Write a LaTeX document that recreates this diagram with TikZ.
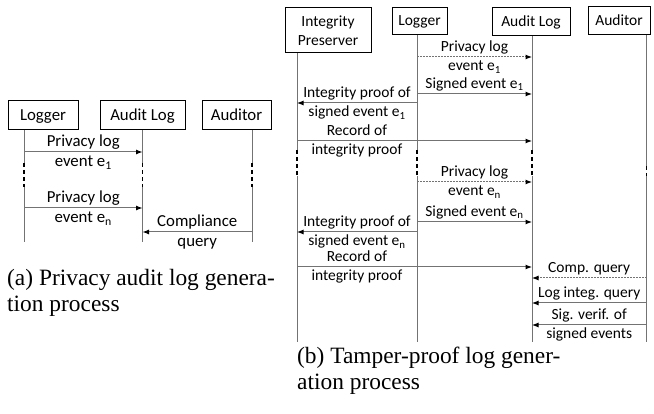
\documentclass[tikz,border=0pt]{standalone}
\usepackage{fontspec}
\setmainfont{Liberation Serif}
\newfontfamily\calibri{Carlito}
\usetikzlibrary{arrows.meta,positioning}

\begin{document}
\begin{tikzpicture}[x=1pt,y=-1pt,
    >={Latex[color=black,length=6.5pt,width=5pt]},
    actor/.style={draw,line width=1pt,inner sep=2pt,align=center},
    life/.style={draw=black!55,line width=1pt},
    gap/.style={draw=black,line width=1.1pt,dash pattern=on 4pt off 3pt},
    msg/.style={->,draw=black!55,line width=1pt},
    async/.style={msg,dash pattern=on 1.5pt off 1.5pt},
    caption/.style={inner sep=0pt,align=left,anchor=north west,
                    font=\fontsize{23.4}{26}\selectfont}]
  \useasboundingbox (0,0) rectangle (654,414);

  % (a) audit log generation
  \begin{scope}[nodes={font=\calibri\fontsize{16.8}{19}\selectfont,
                       inner sep=1pt,text height=13.5pt,text depth=4pt}]
    \node[actor,minimum width=70pt,minimum height=29pt] (loggerA) at (43,115.5) {Logger};
    \node[actor,minimum width=85pt,minimum height=29pt] (auditlogA) at (142.5,115.5) {Audit Log};
    \node[actor,minimum width=69pt,minimum height=29pt] (auditorA) at (236.5,115.5) {Auditor};

    \coordinate (lgA) at (24,130);
    \coordinate (alA) at (auditlogA.south);
    \coordinate (auA) at (252,130);
    \coordinate (cutA) at (0,163);
    \coordinate (joinA) at (0,187);
    \coordinate (endA) at (0,242);

    \draw[life] (lgA) -- (lgA |- cutA) (lgA |- joinA) -- (lgA |- endA);
    \draw[gap] (lgA |- cutA) -- (lgA |- joinA);
    \draw[life] (alA) -- (alA |- cutA) (alA |- joinA) -- (alA |- endA);
    \draw[gap] (alA |- cutA) -- (alA |- joinA);
    \draw[life] (auA) -- (auA |- cutA) (auA |- joinA) -- (auA |- endA);
    \draw[gap] (auA |- cutA) -- (auA |- joinA);

    \draw[msg] (lgA |- 0,152) -- node[above]{Privacy log}
      node[below]{event e\textsubscript{1}} (alA |- 0,152);
    \draw[msg] (lgA |- 0,208) -- node[above]{Privacy log}
      node[below]{event e\textsubscript{n}} (alA |- 0,208);
    \draw[msg] (auA |- 0,232) -- node[above]{Compliance}
      node[below]{query} (alA |- 0,232);
  \end{scope}

  % (b) tamper-proof log generation
  \begin{scope}[nodes={font=\calibri\fontsize{15.5}{19}\selectfont,
                       inner sep=1pt,text height=12.5pt,text depth=4pt}]
    \node[actor,minimum width=86pt,minimum height=45pt,text height=,text depth=]
      (preserverB) at (328,30.5) {Integrity\\Preserver};
    \node[actor,minimum width=55pt,minimum height=27pt] (loggerB) at (419.5,21.5) {Logger};
    \node[actor,minimum width=78pt,minimum height=28pt] (auditlogB) at (531,22) {Audit Log};
    \node[actor,minimum width=62pt,minimum height=28pt] (auditorB) at (619,21) {Auditor};

    \coordinate (ipB) at (297,53);
    \coordinate (lgB) at (417,35);
    \coordinate (alB) at (532,36);
    \coordinate (auB) at (646.5,35);
    \coordinate (cutB) at (0,150);
    \coordinate (joinB) at (0,176);
    \coordinate (endB) at (0,342);
    \coordinate (cutC) at (0,166);

    \draw[life] (ipB) -- (ipB |- cutB) (ipB |- joinB) -- (ipB |- endB);
    \draw[gap] (ipB |- cutB) -- (ipB |- joinB);
    \draw[life] (lgB) -- (lgB |- cutB) (lgB |- joinB) -- (lgB |- endB);
    \draw[gap] (lgB |- cutB) -- (lgB |- joinB);
    \draw[life] (alB) -- (alB |- cutB) (alB |- joinB) -- (alB |- endB);
    \draw[gap] (alB |- cutB) -- (alB |- joinB);
    \draw[life] (auB) -- (auB |- cutC) (auB |- joinB) -- (auB |- endB);
    \draw[gap] (auB |- cutC) -- (auB |- joinB);

    % first event
    \draw[async] (lgB |- 0,57) -- node[above]{Privacy log}
      node[below]{event e\textsubscript{1}} (alB |- 0,57);
    \draw[msg] (lgB |- 0,94) -- node[above]{Signed event e\textsubscript{1}} (alB |- 0,94);
    \draw[msg] (lgB |- 0,103) -- node[above]{Integrity proof of}
      node[below]{signed event e\textsubscript{1}} (ipB |- 0,103);
    \draw[msg] (ipB |- 0,141) -- node[pos=0.255,above]{Record of}
      node[pos=0.255,below]{integrity proof} (alB |- 0,141);

    % n-th event
    \draw[async] (lgB |- 0,182) -- node[above]{Privacy log}
      node[below]{event e\textsubscript{n}} (alB |- 0,182);
    \draw[msg] (lgB |- 0,222) -- node[above]{Signed event e\textsubscript{n}} (alB |- 0,222);
    \draw[msg] (lgB |- 0,232) -- node[above]{Integrity proof of}
      node[below]{signed event e\textsubscript{n}} (ipB |- 0,232);
    \draw[msg] (ipB |- 0,267) -- node[pos=0.255,above]{Record of}
      node[pos=0.255,below]{integrity proof} (alB |- 0,267);

    % auditor queries
    \draw[async] (auB |- 0,278) -- node[above]{Comp. query} (alB |- 0,278);
    \draw[msg] (auB |- 0,303) -- node[above]{Log integ. query} (alB |- 0,303);
    \draw[msg] (auB |- 0,325) -- node[above]{Sig. verif. of}
      node[below]{signed events} (alB |- 0,325);
  \end{scope}

  \node[caption] (capA) at (7,268.8) {(a) Privacy audit log genera-\\tion process};
  \node[caption] (capB) at (297,347) {(b) Tamper-proof log gener-\\ation process};
\end{tikzpicture}
\end{document}
